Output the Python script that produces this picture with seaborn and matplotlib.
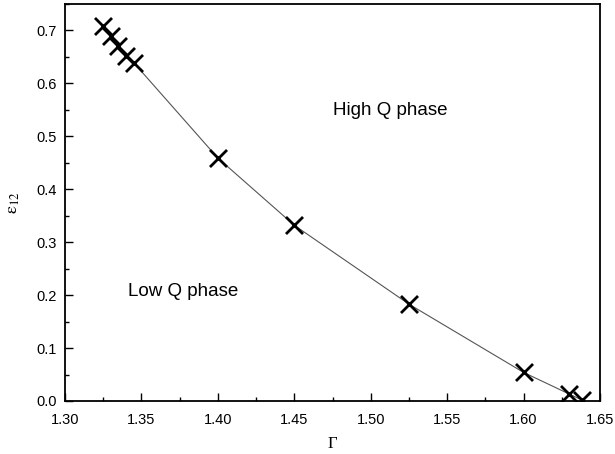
import matplotlib
matplotlib.use("Agg")
import matplotlib.pyplot as plt
import seaborn as sns
import pandas as pd
from matplotlib.ticker import MultipleLocator

gamma = [1.325, 1.33, 1.335, 1.34, 1.345, 1.40, 1.45, 1.525, 1.60, 1.63, 1.638]
eps12 = [0.709, 0.690, 0.671, 0.652, 0.639, 0.459, 0.332, 0.183, 0.054, 0.013, 0.002]

df = pd.DataFrame({"gamma": gamma, "eps": eps12})

sns.set_style("ticks")
plt.rcParams['font.family'] = ['Liberation Sans', 'DejaVu Sans']
plt.rcParams['text.color'] = 'black'
plt.rcParams['axes.labelcolor'] = 'black'
plt.rcParams['mathtext.fontset'] = 'stix'

fig = plt.figure(figsize=(6.15, 4.54), dpi=100)
ax = fig.add_axes([65/615, 1-401/454, 535/615, 397/454])

sns.lineplot(data=df, x="gamma", y="eps", ax=ax, color="#555555", linewidth=0.8,
             sort=False, estimator=None)
sns.scatterplot(data=df, x="gamma", y="eps", ax=ax, marker="x", s=150,
                color="black", linewidth=2.0, zorder=3, clip_on=True)

ax.set_xlim(1.30, 1.65)
ax.set_ylim(0.0, 0.75)
ax.xaxis.set_major_locator(MultipleLocator(0.05))
ax.xaxis.set_minor_locator(MultipleLocator(0.025))
ax.yaxis.set_major_locator(MultipleLocator(0.1))
ax.yaxis.set_minor_locator(MultipleLocator(0.05))
ax.set_xticklabels([f"{v:.2f}" for v in ax.get_xticks()])
ax.set_yticklabels([f"{v:.1f}" for v in ax.get_yticks()])
ax.tick_params(which="both", direction="in", top=False, right=False, labelsize=10.5,
               colors="black")
ax.tick_params(axis="x", which="major", pad=9)
ax.tick_params(axis="y", which="major", pad=6)
ax.tick_params(which="major", length=6, width=1)
ax.tick_params(which="minor", length=3, width=1)
for s in ax.spines.values():
    s.set_linewidth(1.3)
    s.set_color("black")

ax.set_xlabel("Γ", family=["Liberation Serif"], fontsize=12, labelpad=6)
ax.set_ylabel(r"$\mathrm{\varepsilon_{12}}$", fontsize=13, labelpad=10)

ax.text(1.513, 0.549, "High Q phase", fontsize=13.5, ha="center", va="center")
ax.text(1.377, 0.206, "Low Q phase", fontsize=13.5, ha="center", va="center")

fig.savefig("out.png", dpi=100)
